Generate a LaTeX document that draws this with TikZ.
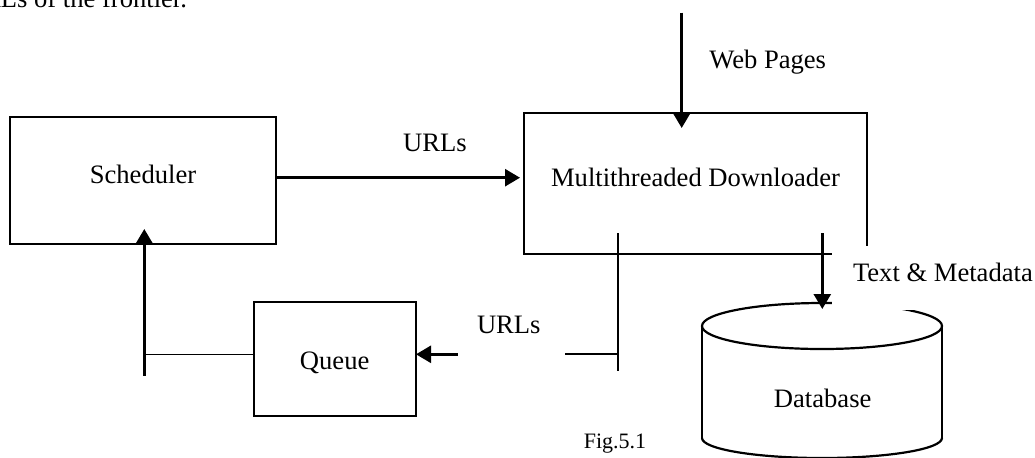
\documentclass[tikz,border=0pt]{standalone}
\usepackage{fontspec}
\setmainfont{Liberation Serif}
\usetikzlibrary{arrows.meta}
\begin{document}
\begin{tikzpicture}[x=0.5pt,y=-0.5pt,
  every node/.style={font=\fontsize{13.3}{16}\selectfont},
  txt/.style={inner sep=0pt, outer sep=0pt, anchor=base},
  box/.style={draw, line width=1.1pt, inner sep=0pt, outer sep=0pt},
  arr/.style={line width=1.3pt, -{Triangle[length=7.5pt,width=8.5pt]}},
  ln/.style={line width=1.1pt},
  thinln/.style={line width=0.7pt}]
\useasboundingbox (0,0) rectangle (1035,457);

% boxes
\node[box, minimum width=133pt, minimum height=63.5pt] (sch) at (143,180.5) {};
\node[box, minimum width=171.5pt, minimum height=70.5pt] (dl) at (695.5,183.5) {};
\node[box, minimum width=81pt, minimum height=57pt] (q) at (335,359) {};

% database cylinder
\draw[ln] (822,326) ellipse [x radius=60pt, y radius=11.5pt];
\draw[ln] (702,326) -- (702,438);
\draw[ln] (942,326) -- (942,438);
\draw[ln] (702,438) arc[start angle=180, end angle=360, x radius=60pt, y radius=10pt];

% connectors
\coordinate (wpS) at (681.7,12.7);
\draw[arr] (wpS) -- ([yshift=-7.5pt]wpS |- dl.north);

\coordinate (u1) at (276,177.7);
\draw[arr] (u1) -- ([xshift=-2pt]u1 -| dl.west);

\coordinate (qs) at (144.3,354.3);
\coordinate (qb) at (144.3,375.7);
\draw[thinln] (q.west |- qs) -- (qs);
\draw[arr] (qb) -- ([yshift=7.5pt]qb |- sch.south);

\coordinate (v1) at (618,233);
\coordinate (v2) at (618,371);
\draw[ln] (v1) -- (v2);
\coordinate (h1) at (565,354.3);
\draw[ln] (h1) -- (h1 -| v1);
\coordinate (a2) at (457.7,354.3);
\draw[arr] (a2) -- (a2 -| q.east);

\coordinate (d1) at (822.3,233);
\coordinate (d2) at (822.3,309);
\draw[arr] (d1) -- (d2);

% white area behind the label
\node[fill=white, inner sep=0pt, outer sep=0pt, minimum width=110pt, minimum height=31.75pt, anchor=north west] (mask) at (832,246) {};

% texts
\node[txt] (tsch) at (143,183) {Scheduler};
\node[txt] (tdl) at (695.5,186) {Multithreaded Downloader};
\node[txt] (tq) at (334.7,369.3) {Queue};
\node[txt] (tdb) at (822.7,407.7) {Database};
\node[txt] (turl1) at (435,151.5) {URLs};
\node[txt] (turl2) at (508.8,333.3) {URLs};
\node[txt] (tweb) at (767.7,68) {Web Pages};
\node[txt, anchor=base west] (ttm) at (853,281) {Text \& Metadata};
\node[txt, font=\fontsize{11}{13}\selectfont] (tfig) at (615,448.3) {Fig.5.1};
\node[txt, anchor=base east] (ttop) at (187,7.3) {URLs of the frontier.};
\end{tikzpicture}
\end{document}
